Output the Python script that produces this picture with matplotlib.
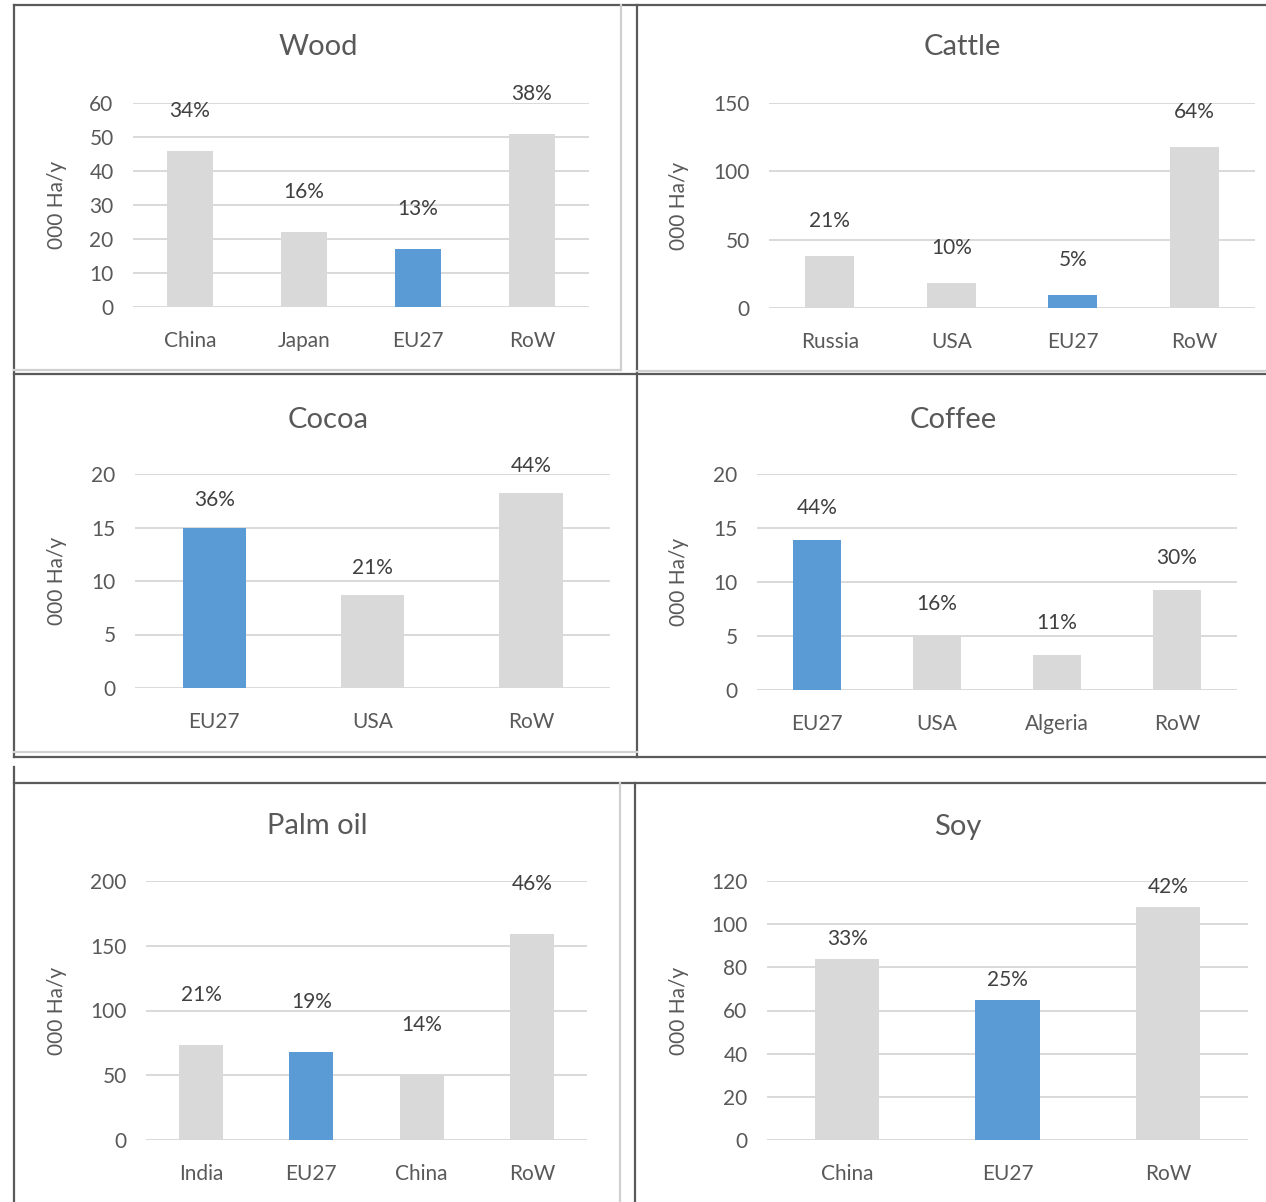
import matplotlib
matplotlib.use("Agg")
import matplotlib.pyplot as plt
from matplotlib.lines import Line2D

plt.rcParams['font.family'] = ['Lato', 'DejaVu Sans']

W, H = 1266, 1202
GRAY = "#D9D9D9"
BLUE = "#5B9BD5"
TXT = "#595959"

# ---- data ----
wood_cats = ["China", "Japan", "EU27", "RoW"]
wood_vals = [46, 22, 17, 51]
wood_pct = ["34%", "16%", "13%", "38%"]

cattle_cats = ["Russia", "USA", "EU27", "RoW"]
cattle_vals = [38, 18, 9.5, 118]
cattle_pct = ["21%", "10%", "5%", "64%"]

cocoa_cats = ["EU27", "USA", "RoW"]
cocoa_vals = [15, 8.7, 18.2]
cocoa_pct = ["36%", "21%", "44%"]

coffee_cats = ["EU27", "USA", "Algeria", "RoW"]
coffee_vals = [13.9, 5.0, 3.2, 9.3]
coffee_pct = ["44%", "16%", "11%", "30%"]

palm_cats = ["India", "EU27", "China", "RoW"]
palm_vals = [73, 68, 50, 159]
palm_pct = ["21%", "19%", "14%", "46%"]

soy_cats = ["China", "EU27", "RoW"]
soy_vals = [84, 65, 108]
soy_pct = ["33%", "25%", "42%"]

fig = plt.figure(figsize=(W / 100, H / 100), dpi=100)
fig.patch.set_facecolor("white")


def px_axes(x0, x1, y_top, y_bot):
    return fig.add_axes([x0 / W, 1 - y_bot / H, (x1 - x0) / W, (y_bot - y_top) / H])


def panel(title, tx, ty, cats, vals, pct, ymax, ystep, box, lab_off, ylab_x):
    x0, x1, yt, yb = box
    ax = px_axes(x0, x1, yt, yb)
    n = len(cats)
    colors = [BLUE if c == "EU27" else GRAY for c in cats]
    xs = list(range(n))
    ax.bar(xs, vals, width=0.4, color=colors, zorder=3)
    ax.set_xlim(-0.5, n - 0.5)
    ax.set_ylim(0, ymax)
    ticks = list(range(0, ymax + 1, ystep))
    ax.set_yticks(ticks)
    ax.set_xticks(xs)
    ax.set_xticklabels(cats)
    for t in ticks:
        ax.axhline(t, color=GRAY, lw=1.4, zorder=1)
    for s in ax.spines.values():
        s.set_visible(False)
    ax.tick_params(axis="both", length=0, labelsize=15, colors=TXT)
    ax.tick_params(axis="y", pad=14)
    ax.tick_params(axis="x", pad=17)
    ax.set_ylabel("000 Ha/y", fontsize=15, color=TXT)
    ax.yaxis.set_label_coords(-(x0 - ylab_x) / (x1 - x0), 0.5)
    for xi, v, p in zip(xs, vals, pct):
        ax.annotate(p, (xi, v), xytext=(0, lab_off), textcoords="offset pixels",
                    ha="center", va="center", fontsize=15, color="#404040")
    fig.text(tx / W, 1 - ty / H, title, ha="center", va="center", fontsize=21, color=TXT)
    return ax


panel("Wood", 318, 47, wood_cats, wood_vals, wood_pct, 60, 10, (133, 589, 103, 307), 40, 67)
panel("Cattle", 962, 47, cattle_cats, cattle_vals, cattle_pct, 150, 50, (769, 1255, 103, 308), 35, 689)
panel("Cocoa", 328, 420, cocoa_cats, cocoa_vals, cocoa_pct, 20, 5, (135, 610, 474, 688), 27, 67)
panel("Coffee", 953, 420, coffee_cats, coffee_vals, coffee_pct, 20, 5, (757, 1237, 474, 690), 32, 689)
panel("Palm oil", 317, 826, palm_cats, palm_vals, palm_pct, 200, 50, (146, 587, 881, 1140), 50, 67)
panel("Soy", 958, 827, soy_cats, soy_vals, soy_pct, 120, 20, (767, 1248, 881, 1140), 20, 689)


def line(xa, ya, xb, yb, color="#595959", lw=1.6):
    fig.add_artist(Line2D([xa / W, xb / W], [1 - ya / H, 1 - yb / H],
                          color=color, lw=lw, transform=fig.transFigure))


DARK = "#5a5a5a"
LIGHT = "#d0d0d0"
# top row
line(14, 5, 1266, 5, DARK)
line(14, 5, 14, 757, DARK)
line(637, 5, 637, 757, DARK)
line(621, 5, 621, 370, LIGHT)
line(14, 370, 621, 370, LIGHT)
line(14, 374, 1266, 374, DARK)
line(637, 371, 1266, 371, LIGHT)
# middle row
line(14, 752, 637, 752, LIGHT)
line(14, 757, 1266, 757, DARK)
# bottom row
line(14, 767, 14, 1202, DARK)
line(14, 783, 1266, 783, DARK)
line(620, 783, 620, 1202, LIGHT)
line(635, 783, 635, 1202, DARK)

fig.savefig("out.png", dpi=100, facecolor="white")
